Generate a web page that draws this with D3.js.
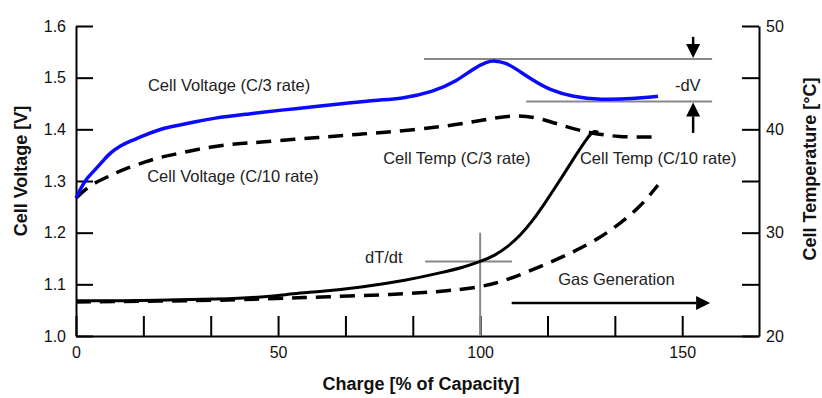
<!DOCTYPE html>
<meta charset="utf-8">

<script src="https://d3js.org/d3.v7.min.js"></script>

<style type="text/css">

body {
  margin: 0;
  background: #fff;
}

svg {
  font-family: "Liberation Sans", Arial, sans-serif;
}

.axis path,
.axis line {
  stroke: #000;
  stroke-width: 2px;
}

.axis text {
  font-size: 16px;
  fill: #111;
}

.title {
  font-size: 18px;
  font-weight: bold;
  fill: #111;
}

.note {
  font-size: 16.5px;
  fill: #222;
}

.marker {
  stroke: #888;
  stroke-width: 2px;
}

</style>

<body>
</body>

<script>

// charge in % of capacity
var vC3Charge = [0, 2.2, 4.2, 6.7, 8.4, 10.9, 13.4, 17.1, 21.5, 28.2, 33.9, 43.1, 50.5, 60.4, 67.1, 75.2, 80.2, 88.3, 94.3, 98.2, 101.7, 103.7, 106.2, 108.1, 113.1, 117.3, 123.0, 129.7, 137.8, 144.0];
var vC3Volts  = [1.267, 1.302, 1.317, 1.339, 1.354, 1.368, 1.377, 1.389, 1.403, 1.412, 1.422, 1.430, 1.437, 1.445, 1.451, 1.457, 1.459, 1.472, 1.494, 1.517, 1.531, 1.533, 1.529, 1.521, 1.495, 1.476, 1.463, 1.457, 1.459, 1.464];

var vC10Charge = [0, 3.5, 6.7, 9.7, 12.6, 17.1, 20.8, 27.0, 33.2, 39.4, 45.5, 54.2, 62.1, 70.3, 78.4, 89.3, 96.8, 103.2, 109.1, 114.8, 121.5, 127.2, 133.9, 144.0];
var vC10Volts  = [1.267, 1.292, 1.304, 1.315, 1.325, 1.337, 1.346, 1.356, 1.366, 1.372, 1.375, 1.381, 1.385, 1.391, 1.395, 1.404, 1.412, 1.422, 1.428, 1.422, 1.404, 1.393, 1.385, 1.385];

var tC3Charge = [0, 10.9, 25.7, 38.1, 48.0, 53.7, 60.4, 70.3, 81.9, 90.1, 96.3, 100.0, 103.7, 106.7, 109.9, 113.1, 116.1, 119.8, 123.5, 126.7, 128.2, 129.2];
var tC3Temp   = [23.4, 23.4, 23.5, 23.6, 23.8, 24.1, 24.3, 24.7, 25.4, 26.1, 26.7, 27.2, 27.8, 28.6, 29.7, 31.2, 32.9, 35.1, 37.4, 39.3, 39.9, 39.7];

var tC10Charge = [0, 30.7, 48.0, 62.1, 78.4, 90.1, 100.0, 106.7, 114.8, 123.0, 129.7, 134.6, 139.6, 144.0];
var tC10Temp   = [23.3, 23.4, 23.6, 23.8, 24.0, 24.3, 24.7, 25.4, 26.7, 28.1, 29.5, 30.9, 32.5, 34.6];

// axis ticks
var xTicks = [0, 50/3, 100/3, 50, 200/3, 250/3, 100, 350/3, 400/3, 150];
var xLabels = [0, 50, 100, 150];
var vTicks = [1.0, 1.1, 1.2, 1.3, 1.4, 1.5, 1.6];
var tTicks = [20, 25, 30, 35, 40, 45, 50];
var tLabels = [20, 30, 40, 50];

// annotations
var dvTop = 1.536, dvBottom = 1.454;
var dTdtPoint = {charge: 100, temp: 27.2};

var width = 822, height = 398;
var margin = {top: 26, right: 62, bottom: 62, left: 76};

var svg = d3.select("body").append("svg")
    .attr("width", width)
    .attr("height", height);

// scales
var x = d3.scaleLinear()
  .domain([0, 169])
  .range([margin.left, width - margin.right - 1]);

var yV = d3.scaleLinear()
  .domain([1.0, 1.6])
  .range([height - margin.bottom, margin.top]);

var yT = d3.scaleLinear()
  .domain([20, 50])
  .range([height - margin.bottom, margin.top]);

// axes (ticks point inward)
svg.append("g")
  .attr("class", "x axis")
  .attr("transform", "translate(0," + yV(1.0) + ")")
  .call(d3.axisBottom(x)
    .tickValues(xTicks)
    .tickSize(-20)
    .tickSizeOuter(0)
    .tickPadding(11)
    .tickFormat(function(d) { return xLabels.indexOf(Math.round(d)) >= 0 && Math.abs(d - Math.round(d)) < 1e-6 ? Math.round(d) : ""; }));

svg.append("g")
  .attr("class", "y axis")
  .attr("transform", "translate(" + x(0) + ",0)")
  .call(d3.axisLeft(yV)
    .tickValues(vTicks)
    .tickSize(-17)
    .tickSizeOuter(0)
    .tickPadding(10)
    .tickFormat(d3.format(".1f")));

svg.append("g")
  .attr("class", "y2 axis")
  .attr("transform", "translate(" + x(169) + ",0)")
  .call(d3.axisRight(yT)
    .tickValues(tTicks)
    .tickSize(-17)
    .tickSizeOuter(0)
    .tickPadding(7)
    .tickFormat(function(d) { return tLabels.indexOf(d) >= 0 ? d : ""; }));

// axis titles
svg.append("text")
  .attr("class", "title")
  .attr("text-anchor", "middle")
  .attr("transform", "translate(27,171) rotate(-90)")
  .text("Cell Voltage [V]");

svg.append("text")
  .attr("class", "title")
  .attr("text-anchor", "middle")
  .attr("transform", "translate(816,169) rotate(-90)")
  .text("Cell Temperature [°C]");

svg.append("text")
  .attr("class", "title")
  .attr("text-anchor", "middle")
  .attr("x", 421)
  .attr("y", 390)
  .text("Charge [% of Capacity]");

// gray marker lines
svg.append("line").attr("class", "marker")
  .attr("x1", x(86.1)).attr("x2", x(157.4))
  .attr("y1", yV(dvTop)).attr("y2", yV(dvTop));

svg.append("line").attr("class", "marker")
  .attr("x1", x(111.4)).attr("x2", x(157.4))
  .attr("y1", yV(dvBottom)).attr("y2", yV(dvBottom));

svg.append("line").attr("class", "marker")
  .attr("x1", x(dTdtPoint.charge)).attr("x2", x(dTdtPoint.charge))
  .attr("y1", yT(30)).attr("y2", yT(20));

svg.append("line").attr("class", "marker")
  .attr("x1", x(86.4)).attr("x2", x(107.9))
  .attr("y1", yT(dTdtPoint.temp)).attr("y2", yT(dTdtPoint.temp));

// lines
function series(xs, ys) {
  return xs.map(function(d, i) { return {x: d, y: ys[i]}; });
}

var lineV = d3.line()
  .x(function(d) { return x(d.x); })
  .y(function(d) { return yV(d.y); })
  .curve(d3.curveBasis);

var lineT = d3.line()
  .x(function(d) { return x(d.x); })
  .y(function(d) { return yT(d.y); })
  .curve(d3.curveBasis);

svg.append("path")
  .datum(series(tC10Charge, tC10Temp))
  .attr("d", lineT)
  .attr("fill", "none")
  .attr("stroke", "#000")
  .attr("stroke-width", 3.5)
  .attr("stroke-dasharray", "15,9");

svg.append("path")
  .datum(series(tC3Charge, tC3Temp))
  .attr("d", lineT)
  .attr("fill", "none")
  .attr("stroke", "#000")
  .attr("stroke-width", 3);

svg.append("path")
  .datum(series(vC10Charge, vC10Volts))
  .attr("d", lineV)
  .attr("fill", "none")
  .attr("stroke", "#000")
  .attr("stroke-width", 3.5)
  .attr("stroke-dasharray", "15,9");

svg.append("path")
  .datum(series(vC3Charge, vC3Volts))
  .attr("d", lineV)
  .attr("fill", "none")
  .attr("stroke", "#0a0aff")
  .attr("stroke-width", 3.5);

// arrows
function arrow(x1, y1, x2, y2) {
  var ang = Math.atan2(y2 - y1, x2 - x1);
  var len = 14, half = 7;
  var bx = x2 - len * Math.cos(ang), by = y2 - len * Math.sin(ang);
  svg.append("line")
    .attr("x1", x1).attr("y1", y1).attr("x2", bx).attr("y2", by)
    .attr("stroke", "#000").attr("stroke-width", 2.5);
  svg.append("path")
    .attr("d", "M" + x2 + "," + y2 +
      "L" + (bx + half * Math.sin(ang)) + "," + (by - half * Math.cos(ang)) +
      "L" + (bx - half * Math.sin(ang)) + "," + (by + half * Math.cos(ang)) + "Z")
    .attr("fill", "#000");
}

arrow(x(152.7), yV(1.579), x(152.7), yV(dvTop) - 1);
arrow(x(152.7), yV(1.393), x(152.7), yV(dvBottom) + 1);
arrow(x(107.8), yT(23.2), x(156.9), yT(23.2));

// labels
var notes = [
  {text: "Cell Voltage (C/3 rate)", x: 17.8, v: 1.474},
  {text: "Cell Voltage (C/10 rate)", x: 17.6, v: 1.298},
  {text: "Cell Temp (C/3 rate)", x: 76.0, v: 1.333},
  {text: "Cell Temp (C/10 rate)", x: 124.7, v: 1.333},
  {text: "-dV", x: 148.2, v: 1.474}
];

svg.selectAll(".note.v")
  .data(notes).enter().append("text")
  .attr("class", "note v")
  .attr("x", function(d) { return x(d.x); })
  .attr("y", function(d) { return yV(d.v); })
  .text(function(d) { return d.text; });

svg.append("text").attr("class", "note")
  .attr("x", x(71.5)).attr("y", yT(27.07))
  .text("dT/dt");

svg.append("text").attr("class", "note")
  .attr("x", x(119.3)).attr("y", yT(24.94))
  .text("Gas Generation");

</script>
